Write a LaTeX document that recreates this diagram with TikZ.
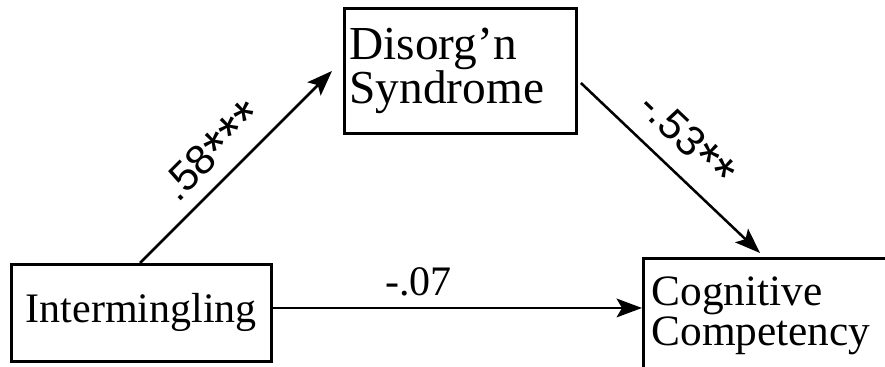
\documentclass[tikz,border=0pt]{standalone}
\usepackage{fontspec}
\setmainfont{Liberation Serif}
\newfontfamily\lsans{Liberation Sans}
\usetikzlibrary{arrows.meta,calc}
\newcommand\myboxfont{\fontsize{31.5}{27}\selectfont}
\newcommand\mydfont{\fontsize{35.5}{27.75}\selectfont}
\newcommand\mycfont{\fontsize{32.5}{26.5}\selectfont}
\newcommand\bigast{\raisebox{-6.5pt}{\fontsize{41}{41}\selectfont *}}
\setlength{\lineskiplimit}{-30pt}
\tikzset{
  varbox/.style={draw, line width=2.2pt, anchor=north west},
  arr/.style={line width=1.9pt, -{Stealth[length=19pt, width=14pt, inset=4pt]}},
  coef/.style={font=\lsans\myboxfont, inner sep=0pt, text depth=0pt, sloped},
  coefser/.style={font=\myboxfont, inner sep=0pt, text depth=0pt}
}
\begin{document}
\begin{tikzpicture}[x=0.75pt, y=-0.75pt]
\useasboundingbox (0,0) rectangle (885,367);
\clip (0,0) rectangle (885,367);
\node[varbox, font=\myboxfont, minimum width=195pt, minimum height=72.75pt, inner sep=0pt, text depth=10pt, text height=25pt] (I) at (10,263) {Intermingling};
\node[varbox, font=\mydfont, text width=166.5pt, align=left, minimum height=93.75pt, inner xsep=3.75pt, inner ysep=0pt] (D) at (343,7) {Disorg’n\\Syndrome};
\node[varbox, font=\mycfont, text width=210pt, align=left, inner xsep=6pt, inner ysep=14pt] (C) at (642,257) {Cognitive\\Competency};
\draw[arr] ($(I.north west)+(130,0)$) -- node[coef, pos=0.48, above=10.5pt] (l1) {.58\bigast\bigast\bigast} ($(D.west)+(-11,0)$);
\draw[arr] ($(D.north east)+(3,76)$) -- node[coef, pos=0.47, above=13.5pt] (l2) {-.53\bigast\bigast} ($(C.north west)+(118,-4)$);
\coordinate (h1) at ($(I.east)+(0,-5)$);
\draw[arr] (h1) -- node[coefser, pos=0.395, above=8.25pt] (l3) {-.07} (h1 -| C.west);
\end{tikzpicture}
\end{document}
